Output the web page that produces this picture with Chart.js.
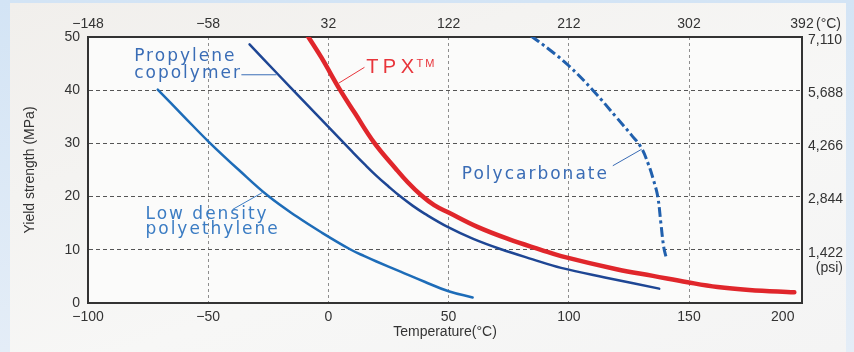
<!DOCTYPE html>
<html>
<head>
<meta charset="utf-8">
<script src="https://cdn.jsdelivr.net/npm/chart.js@4.4.0/dist/chart.umd.min.js"></script>
<style>
  html, body { margin: 0; padding: 0; }
  body { width: 854px; height: 352px; position: relative; overflow: hidden;
         background: linear-gradient(180deg, #d3e4f5, #e4edf7); }
  #panel { position: absolute; left: 10px; top: 3px; width: 836px; height: 349px;
           background: linear-gradient(160deg, #f1efec, #f7f7f6 60%, #f4f4f4); }
  #wrap { position: absolute; left: 0; top: 0; width: 854px; height: 352px; }
</style>
</head>
<body>
<div id="panel"></div>
<div id="wrap"><canvas id="chart" width="854" height="352"></canvas></div>
<script>
// temperatures in °C, yield strength in MPa
const ldpeTemp = [-71, -60, -50, -37, -25, -13, -3, 9, 15, 20, 30, 40, 50, 60];
const ldpeMPa  = [40.1, 35.0, 30.4, 24.9, 20.1, 16.2, 13.3, 10.1, 8.8, 7.8, 5.9, 4.0, 2.2, 1.05];

const ppTemp = [-32.8, -21, -10, 0, 10, 15, 20, 25, 30, 35, 40, 50, 60, 71.8, 85, 96.8, 115, 137.6];
const ppMPa  = [48.6, 43.0, 37.8, 33.1, 28.4, 26.1, 23.9, 21.9, 20, 18.3, 16.8, 14.2, 12.1, 10.1, 8.2, 6.6, 4.8, 2.7];

const tpxTemp = [-8.6, -3, 4.9, 11, 19.1, 28.1, 33, 38.5, 44, 50, 62, 75, 88.4, 96.8, 120.3, 135, 149.4, 161.9, 175, 193.8];
const tpxMPa  = [50.2, 46.2, 40, 35.7, 30.1, 25.2, 22.7, 20.3, 18.4, 17, 14.3, 12, 10, 8.8, 6.3, 5.1, 3.9, 3.0, 2.45, 2.0];

const pcTemp = [84.3, 92, 100, 110, 120, 126, 130, 133, 135.3, 137, 138.3, 139.5, 140.7];
const pcMPa  = [50.2, 47.6, 44.6, 40, 34.8, 31.6, 29.3, 26.2, 23, 20, 15, 10.5, 8.2];

// axis ticks
const tempTicks = [-100, -50, 0, 50, 100, 150, 200];
const fahrLabels = ['\u2212148', '\u221258', '32', '122', '212', '302', '392'];
const mpaTicks = [0, 10, 20, 30, 40, 50];
const psiLabels = ['1,422', '2,844', '4,266', '5,688', '7,110'];

const X_MAX = 197;
const FONT = '"Liberation Sans", Arial, sans-serif';
const NOTE_FONT = '"DejaVu Sans", Verdana, sans-serif';

function pts(t, v) {
    return t.map((x, i) => ({x: x, y: v[i]}));
}
function minus(v) {
    return v < 0 ? '\u2212' + Math.abs(v) : String(v);
}
function dashedGrid(color, count) {
    return ctx => (ctx.index === 0 || ctx.index === count - 1) ? 'rgba(0,0,0,0)' : color;
}

// text labels drawn on top, in data units
const notes = [
    {lines: ['Propylene', 'copolymer'], x: -80.8, y: [46.3, 43.1], color: '#3a6db6',
     leader: [[-36.2, 42.9], [-21.6, 42.9]]},
    {lines: ['Low density', 'polyethylene'], x: -76.1, y: [16.6, 13.8], color: '#3b7cc3',
     leader: [[-39.8, 17.6], [-27.3, 20.8]]},
    {lines: ['Polycarbonate'], x: 55.5, y: [24.2], color: '#3a6cb5',
     leader: [[118.3, 25.8], [130.3, 28.9]]},
    {lines: ['TPX'], x: 15.7, y: [44.2], color: '#e8353b', font: FONT, size: 20, spacing: 4.5, tm: true,
     leader: [[15.0, 44.3], [4.2, 41.3]]}
];

const labelPlugin = {
    id: 'labels',
    beforeDraw(chart) {
        const a = chart.chartArea, c = chart.ctx;
        c.save();
        c.fillStyle = '#fbfbfa';
        c.fillRect(a.left, a.top, a.right - a.left, a.bottom - a.top);
        c.restore();
    },
    afterDraw(chart) {
        const c = chart.ctx, sx = chart.scales.x, sy = chart.scales.y;
        c.save();
        notes.forEach(n => {
            c.strokeStyle = n.color;
            c.lineWidth = 1;
            c.beginPath();
            c.moveTo(sx.getPixelForValue(n.leader[0][0]), sy.getPixelForValue(n.leader[0][1]));
            c.lineTo(sx.getPixelForValue(n.leader[1][0]), sy.getPixelForValue(n.leader[1][1]));
            c.stroke();

            c.fillStyle = n.color;
            c.textAlign = 'left';
            c.textBaseline = 'middle';
            n.lines.forEach((t, i) => {
                c.font = (n.size || 17) + 'px ' + (n.font || NOTE_FONT);
                c.letterSpacing = (n.spacing || 2) + 'px';
                const px = sx.getPixelForValue(n.x), py = sy.getPixelForValue(n.y[i]);
                c.fillText(t, px, py);
                if (n.tm) {
                    const w = c.measureText(t).width;
                    c.font = '11px ' + FONT;
                    c.letterSpacing = '2px';
                    c.fillText('TM', px + w - 2, py - 4);
                }
            });
        });
        // unit notes on the secondary axes
        c.letterSpacing = '0px';
        c.font = '14px ' + FONT;
        c.fillStyle = '#333';
        const top = chart.scales.xTop, right = chart.scales.yRight;
        c.textAlign = 'left';
        c.textBaseline = 'middle';
        c.fillText('(\u00b0C)', top.getPixelForValue(X_MAX) + 14, 24);
        c.textAlign = 'right';
        c.fillText('(psi)', 843, right.getPixelForValue(10) + 18);
        c.restore();
    }
};

new Chart(document.getElementById('chart'), {
    type: 'line',
    data: {
        datasets: [
            {label: 'Low density polyethylene', data: pts(ldpeTemp, ldpeMPa),
             borderColor: '#1d6cb8', borderWidth: 2.5},
            {label: 'Propylene copolymer', data: pts(ppTemp, ppMPa),
             borderColor: '#1e4694', borderWidth: 2.5},
            {label: 'Polycarbonate', data: pts(pcTemp, pcMPa),
             borderColor: '#2160ad', borderWidth: 3, borderDash: [10, 3.5, 3, 3.5], borderCapStyle: 'butt'},
            {label: 'TPX', data: pts(tpxTemp, tpxMPa),
             borderColor: '#e0262b', borderWidth: 4.5}
        ]
    },
    options: {
        responsive: false,
        animation: false,
        layout: {padding: 0},
        elements: {
            point: {radius: 0},
            line: {tension: 0.4, fill: false, borderCapStyle: 'round'}
        },
        plugins: {
            legend: {display: false},
            tooltip: {enabled: false}
        },
        scales: {
            x: {
                type: 'linear', position: 'bottom', min: -100, max: X_MAX,
                afterBuildTicks: s => { s.ticks = tempTicks.map(v => ({value: v === 200 ? 189 : v})); },
                afterFit: s => { s.height = 49; },
                ticks: {
                    callback: (v, i) => minus(tempTicks[i]),
                    font: {size: 14, family: FONT}, color: '#333', padding: 6, maxRotation: 0
                },
                grid: {color: dashedGrid('#8e8e8e', tempTicks.length), drawTicks: false, lineWidth: 1},
                border: {display: true, color: '#333', width: 2, dash: [3, 3]},
                title: {
                    display: true, text: 'Temperature(\u00b0C)', color: '#333',
                    font: {size: 14, family: FONT}, padding: {top: 0, bottom: 11}
                }
            },
            xTop: {
                type: 'linear', position: 'top', min: -100, max: X_MAX,
                afterBuildTicks: s => { s.ticks = tempTicks.map(v => ({value: Math.min(v, X_MAX)})); },
                afterFit: s => { s.height = 37; },
                ticks: {
                    callback: (v, i) => fahrLabels[i],
                    font: {size: 14, family: FONT}, color: '#333', padding: 4, maxRotation: 0
                },
                grid: {display: false, drawTicks: false, tickLength: 0},
                border: {display: true, color: '#333', width: 2}
            },
            y: {
                type: 'linear', position: 'left', min: 0, max: 50,
                afterBuildTicks: s => { s.ticks = mpaTicks.map(v => ({value: v})); },
                afterFit: s => { s.width = 88; },
                ticks: {font: {size: 14, family: FONT}, color: '#333', padding: 8},
                grid: {color: dashedGrid('#555', mpaTicks.length), drawTicks: false, lineWidth: 1},
                border: {display: true, color: '#333', width: 2, dash: [4, 3]},
                title: {
                    display: true, text: 'Yield strength (MPa)', color: '#333',
                    font: {size: 14, family: FONT}, padding: {top: 22, bottom: 0}
                }
            },
            yRight: {
                type: 'linear', position: 'right', min: 0, max: 50,
                afterBuildTicks: s => { s.ticks = [10, 20, 30, 40, 50].map(v => ({value: v})); },
                afterFit: s => { s.width = 52; },
                ticks: {
                    callback: (v, i) => psiLabels[i],
                    font: {size: 14, family: FONT}, color: '#333', padding: 6,
                    crossAlign: 'near', labelOffset: 3
                },
                grid: {display: false, drawTicks: false, tickLength: 0},
                border: {display: true, color: '#333', width: 2}
            }
        }
    },
    plugins: [labelPlugin]
});
</script>
</body>
</html>
